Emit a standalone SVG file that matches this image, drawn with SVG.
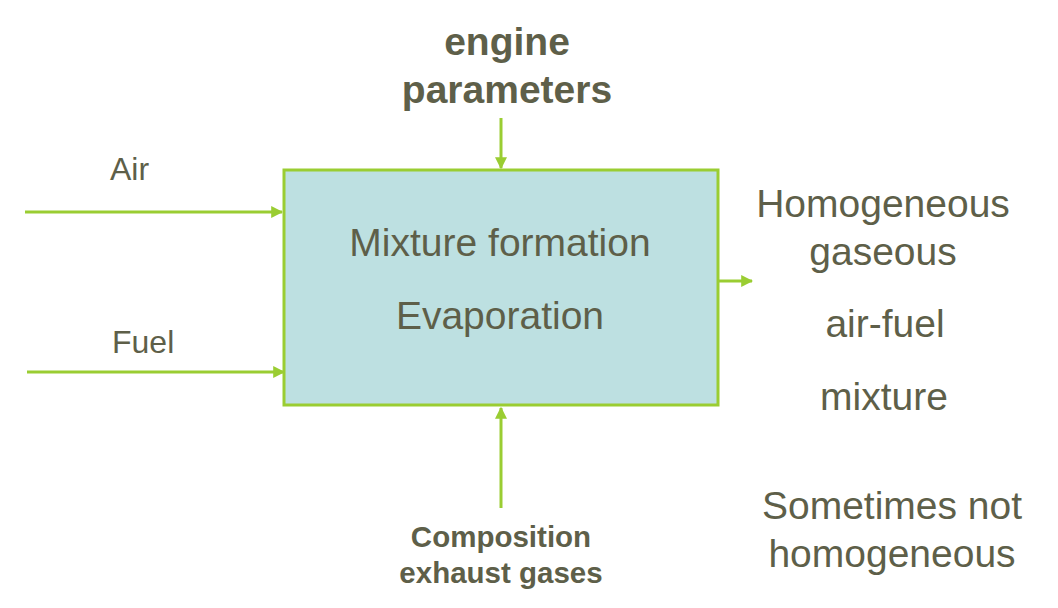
<svg xmlns="http://www.w3.org/2000/svg" width="1058" height="608" viewBox="0 0 1058 608">
  <style>
    .lbl { font-family: "Liberation Sans", Arial, sans-serif; fill: #5e5f49; }
    .b { font-weight: bold; }
    .big { font-size: 39px; }
    .flow { stroke: #9acd32; stroke-width: 3; fill: none; }
  </style>
  <defs>
    <marker id="arrow" viewBox="0 0 10 10" refX="9" refY="5" markerWidth="4" markerHeight="4" orient="auto" markerUnits="strokeWidth">
      <path d="M0,0 L10,5 L0,10 z" fill="#9acd32"/>
    </marker>
  </defs>
  <rect width="1058" height="608" fill="#ffffff"/>

  <g id="process">
    <rect x="284" y="170" width="434" height="235" fill="#bde0e1" stroke="#9acd32" stroke-width="3"/>
    <text class="lbl big" x="500" y="256" text-anchor="middle">Mixture formation</text>
    <text class="lbl big" x="500" y="329" text-anchor="middle">Evaporation</text>
  </g>

  <g id="engine-params">
    <text class="lbl b" x="507" y="55" font-size="39" text-anchor="middle">engine</text>
    <text class="lbl b" x="507" y="103" font-size="39" text-anchor="middle">parameters</text>
  </g>

  <g id="air">
    <text class="lbl" x="110" y="180" font-size="32">Air</text>
  </g>

  <g id="fuel">
    <text class="lbl" x="112" y="353" font-size="32">Fuel</text>
  </g>

  <g id="exhaust">
    <text class="lbl b" x="501" y="547" font-size="29.5" text-anchor="middle">Composition</text>
    <text class="lbl b" x="501" y="583" font-size="29.5" text-anchor="middle">exhaust gases</text>
  </g>

  <g id="mixture">
    <text class="lbl big" x="883" y="217" text-anchor="middle">Homogeneous</text>
    <text class="lbl big" x="883" y="265" text-anchor="middle">gaseous</text>
    <text class="lbl big" x="885" y="337" text-anchor="middle">air-fuel</text>
    <text class="lbl big" x="884" y="410" text-anchor="middle">mixture</text>
    <text class="lbl big" x="892" y="519" text-anchor="middle">Sometimes not</text>
    <text class="lbl big" x="892" y="567" text-anchor="middle">homogeneous</text>
  </g>

  <g id="connectors">
    <line class="flow" x1="25" y1="212" x2="282" y2="212" marker-end="url(#arrow)"/>
    <line class="flow" x1="27" y1="372" x2="284" y2="372" marker-end="url(#arrow)"/>
    <line class="flow" x1="501" y1="118" x2="501" y2="168" marker-end="url(#arrow)"/>
    <line class="flow" x1="501" y1="508" x2="501" y2="408" marker-end="url(#arrow)"/>
    <line class="flow" x1="718" y1="281" x2="752" y2="281" marker-end="url(#arrow)"/>
  </g>
</svg>
